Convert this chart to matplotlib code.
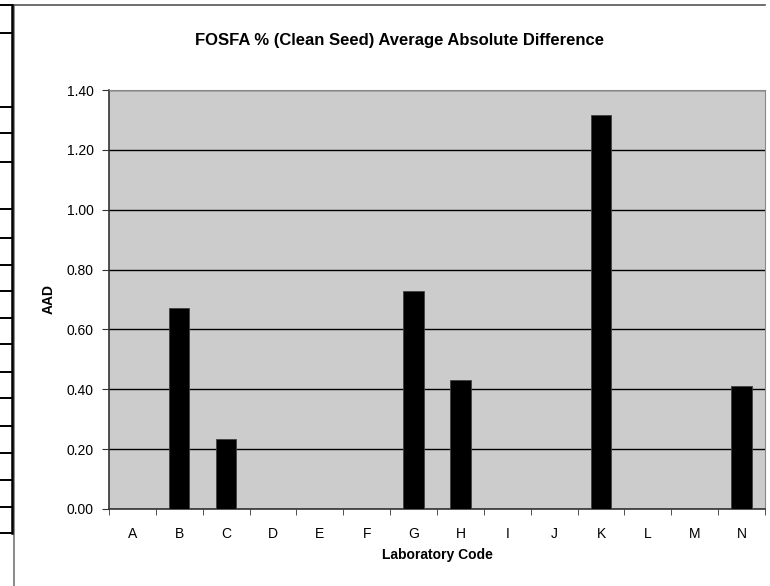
import matplotlib
matplotlib.use("Agg")
from matplotlib import pyplot as plt
from matplotlib.lines import Line2D

plt.rcParams['font.family'] = ['Liberation Sans', 'DejaVu Sans']

labs = ['A', 'B', 'C', 'D', 'E', 'F', 'G', 'H', 'I', 'J', 'K', 'L', 'M', 'N']
aad = [0, 0.67, 0.235, 0, 0, 0, 0.73, 0.432, 0, 0, 1.315, 0, 0, 0.412]
yticks = [0.0, 0.2, 0.4, 0.6, 0.8, 1.0, 1.2, 1.4]

W, H = 770, 586
fig = plt.figure(figsize=(W / 100, H / 100), dpi=100)

# plot area in pixels: x 109..765, y 90..509
ax = fig.add_axes([109 / W, 1 - 509 / H, (765 - 109) / W, (509 - 90) / H])
ax.set_facecolor('#cccccc')

x = list(range(len(labs)))
ax.bar(x, aad, width=0.43, color='black', edgecolor='#404040', linewidth=0.6, zorder=3)

ax.set_xlim(-0.5, len(labs) - 0.5)
ax.set_ylim(0, 1.4)
ax.set_yticks(yticks)
ax.set_yticklabels([f"{v:.2f}" for v in yticks], fontsize=10)
ax.set_xticks(x)
ax.set_xticklabels(labs, fontsize=10)
ax.set_xticks([i - 0.5 for i in range(len(labs) + 1)], minor=True)
ax.tick_params(axis='x', which='major', length=0, pad=13)
ax.tick_params(axis='x', which='minor', length=4, direction='out', color='#333333')
ax.tick_params(axis='y', length=5, direction='out', pad=6, color='#333333')
ax.yaxis.grid(True, color='black', linewidth=1, zorder=1)
ax.set_axisbelow(True)
for s in ['top', 'right']:
    ax.spines[s].set_color('#888888')
for s in ['left', 'bottom']:
    ax.spines[s].set_color('#333333')
    ax.spines[s].set_linewidth(1.2)

ax.set_ylabel('AAD', fontsize=10, fontweight='bold', labelpad=8)
ax.set_xlabel('Laboratory Code', fontsize=10, fontweight='bold', labelpad=5)
fig.text(400 / W, 1 - 40 / H, 'FOSFA % (Clean Seed) Average Absolute Difference',
         ha='center', va='center', fontsize=12, fontweight='bold')

# chart frame and table border at the left edge
fig.add_artist(Line2D([14 / W, 14 / W], [1 - 5 / H, 0], color='#777777', linewidth=1.2))
fig.add_artist(Line2D([14 / W, 765 / W], [1 - 5 / H, 1 - 5 / H], color='#555555', linewidth=1.2))
fig.add_artist(Line2D([11.5 / W, 11.5 / W], [1 - 5 / H, 1 - 533 / H], color='black', linewidth=1.8))
for yy in [5, 33, 107, 133, 162, 209, 238, 265, 291, 318, 344, 372, 398, 426, 453, 480, 507, 533]:
    fig.add_artist(Line2D([0, 11.5 / W], [1 - yy / H, 1 - yy / H], color='black', linewidth=1.4))

fig.savefig('out.png', dpi=100)
